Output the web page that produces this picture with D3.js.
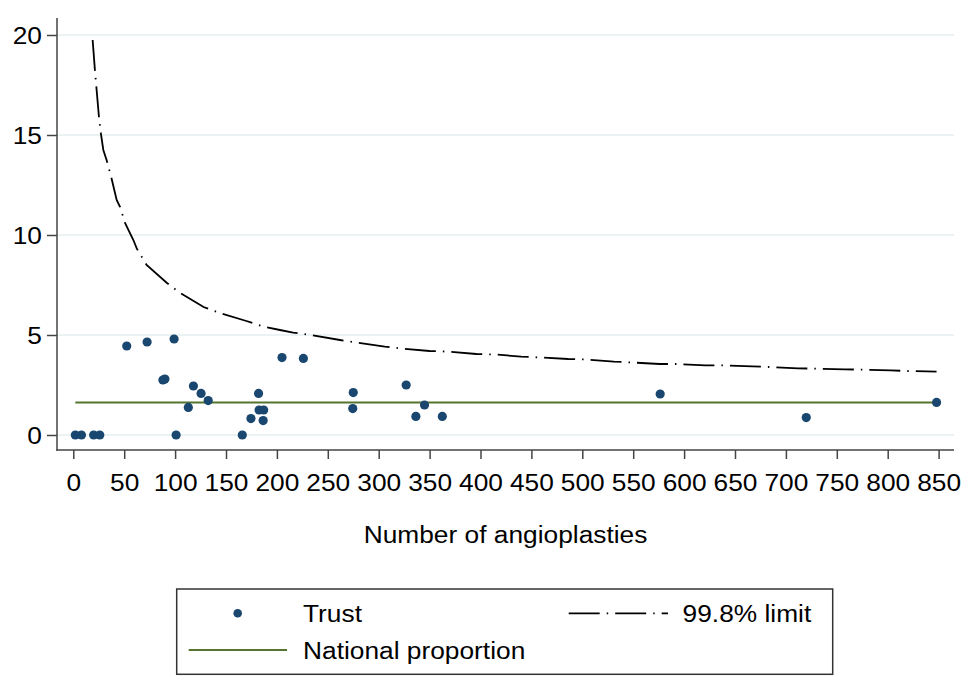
<!DOCTYPE html>
<html>
<head>
<meta charset="utf-8">
<script src="https://cdn.jsdelivr.net/npm/d3@7"></script>
<style>
  html, body { margin: 0; padding: 0; background: #fff; }
  svg { display: block; }
  text { font-family: "Liberation Sans", Arial, sans-serif; fill: #000; }
</style>
</head>
<body>
<svg id="chart" width="978" height="700"></svg>
<script>
// ---- Data ----
const trustN   = [2, 8, 20, 26, 52.5, 72.5, 99, 88, 90, 118, 125.5, 132.5, 113, 101, 166, 174.5, 182, 182.5, 187, 186.5, 205, 226, 275, 274.5, 327, 345, 336.5, 362.5, 576.5, 720, 848];
const trustPct = [0, 0, 0, 0, 4.45, 4.65, 4.8, 2.75, 2.8, 2.45, 2.08, 1.72, 1.38, 0, 0, 0.82, 2.08, 1.25, 1.25, 0.72, 3.87, 3.83, 2.12, 1.32, 2.5, 1.5, 0.93, 0.93, 2.05, 0.87, 1.63];

const limitN   = [19, 21.3, 25.2, 27, 29.5, 33, 37.7, 42.6, 46, 50.8, 59, 62.3, 72, 92, 105, 128, 144, 170, 188, 203, 216, 233, 262, 277, 306, 321, 350, 367, 396, 413, 440, 457, 486, 502, 531, 547, 576, 592, 621, 637, 667, 683, 712, 729, 758, 774, 803, 819, 848];
const limitPct = [19.75, 18.2, 15.9, 15.1, 14.25, 13.7, 12.8, 11.75, 11.4, 10.6, 9.75, 9.33, 8.5, 7.6, 7.1, 6.4, 6.1, 5.7, 5.4, 5.25, 5.12, 5.0, 4.75, 4.63, 4.42, 4.33, 4.2, 4.17, 4.05, 4.03, 3.92, 3.88, 3.8, 3.78, 3.67, 3.63, 3.55, 3.55, 3.48, 3.48, 3.43, 3.4, 3.33, 3.32, 3.28, 3.27, 3.23, 3.2, 3.17];

const nationalN = [2, 848];
const nationalPct = 1.63;

const xTicks = [0, 50, 100, 150, 200, 250, 300, 350, 400, 450, 500, 550, 600, 650, 700, 750, 800, 850];
const yTicks = [0, 5, 10, 15, 20];

const xTitle = "Number of angioplasties";
const legendLabels = ["Trust", "99.8% limit", "National proportion"];

// ---- Styles ----
const NAVY = "#1a476f";
const GREEN = "#55752f";
const GRID = "#eaf2f3";
const AXIS = "#444444";
const FS = 23.5;         // font size
const SX = 1.12;         // horizontal text stretch (as in reference)

const svg = d3.select("#chart");

const plot = { left: 57, right: 954, top: 18, bottom: 450 };

const x = d3.scaleLinear().domain([0, 850]).range([73.3, 938.6]);
const y = d3.scaleLinear().domain([0, 20]).range([435, 35]);

// grid lines
svg.append("g").selectAll("line").data(yTicks).join("line")
  .attr("x1", plot.left).attr("x2", plot.right)
  .attr("y1", d => y(d)).attr("y2", d => y(d))
  .attr("stroke", GRID).attr("stroke-width", 2);

// national proportion line
svg.append("line")
  .attr("x1", x(nationalN[0])).attr("x2", x(nationalN[1]))
  .attr("y1", y(nationalPct)).attr("y2", y(nationalPct))
  .attr("stroke", GREEN).attr("stroke-width", 2);

// limit curve
const limitData = limitN.map((n, i) => [n, limitPct[i]]);
svg.append("path")
  .datum(limitData)
  .attr("fill", "none")
  .attr("stroke", "#000")
  .attr("stroke-width", 1.8)
  .attr("stroke-dasharray", "31,7,1.5,7")
  .attr("d", d3.line().x(d => x(d[0])).y(d => y(d[1])));

// trust points
const trustData = trustN.map((n, i) => [n, trustPct[i]]);
svg.append("g").selectAll("circle").data(trustData).join("circle")
  .attr("cx", d => x(d[0])).attr("cy", d => y(d[1]))
  .attr("r", 4.6).attr("fill", NAVY);

// axes
const xAxis = d3.axisBottom(x).tickValues(xTicks).tickSize(9).tickSizeOuter(0).tickFormat(d3.format("d"));
const gx = svg.append("g").attr("transform", `translate(0,${plot.bottom})`).call(xAxis);
gx.select(".domain").remove();
gx.selectAll(".tick line").attr("stroke", AXIS).attr("stroke-width", 1.5);
gx.selectAll(".tick text")
  .attr("y", 41).attr("dy", null)
  .attr("font-size", FS).attr("font-family", "Liberation Sans, Arial, sans-serif")
  .attr("fill", "#000")
  .attr("transform", `scale(${SX},1)`);

const yAxis = d3.axisLeft(y).tickValues(yTicks).tickSize(10).tickSizeOuter(0).tickFormat(d3.format("d"));
const gy = svg.append("g").attr("transform", `translate(${plot.left},0)`).call(yAxis);
gy.select(".domain").remove();
gy.selectAll(".tick line").attr("stroke", AXIS).attr("stroke-width", 1.5);
gy.selectAll(".tick text")
  .attr("x", -15 / SX).attr("dy", "0.35em")
  .attr("font-size", FS).attr("font-family", "Liberation Sans, Arial, sans-serif")
  .attr("fill", "#000")
  .attr("transform", `scale(${SX},1)`);

// axis lines
svg.append("line").attr("x1", plot.left).attr("x2", plot.left).attr("y1", plot.top).attr("y2", plot.bottom + 0.75)
  .attr("stroke", AXIS).attr("stroke-width", 1.5);
svg.append("line").attr("x1", plot.left - 0.75).attr("x2", plot.right).attr("y1", plot.bottom).attr("y2", plot.bottom)
  .attr("stroke", AXIS).attr("stroke-width", 1.5);

// axis title
svg.append("text")
  .attr("transform", `translate(${(plot.left + plot.right) / 2},543) scale(${SX},1)`)
  .attr("text-anchor", "middle").attr("font-size", FS)
  .text(xTitle);

// legend
const lg = svg.append("g");
lg.append("rect").attr("x", 176.7).attr("y", 589).attr("width", 656).attr("height", 85.3)
  .attr("fill", "#fff").attr("stroke", "#333").attr("stroke-width", 1.5);
lg.append("circle").attr("cx", 237.7).attr("cy", 613.3).attr("r", 4.3).attr("fill", NAVY);
lg.append("text").attr("transform", `translate(303,622) scale(${SX},1)`).attr("font-size", FS).text(legendLabels[0]);
lg.append("line").attr("x1", 568.7).attr("x2", 668).attr("y1", 613.3).attr("y2", 613.3)
  .attr("stroke", "#000").attr("stroke-width", 1.8).attr("stroke-dasharray", "31,7,1.5,7");
lg.append("text").attr("transform", `translate(682.6,622) scale(${SX},1)`).attr("font-size", FS).text(legendLabels[1]);
lg.append("line").attr("x1", 188.7).attr("x2", 287).attr("y1", 650).attr("y2", 650)
  .attr("stroke", GREEN).attr("stroke-width", 2);
lg.append("text").attr("transform", `translate(303,659) scale(${SX},1)`).attr("font-size", FS).text(legendLabels[2]);
</script>
</body>
</html>
